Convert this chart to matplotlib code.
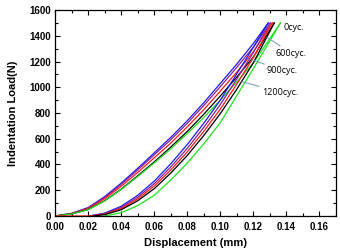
import matplotlib
matplotlib.use("Agg")
import matplotlib.pyplot as plt
from matplotlib.ticker import MultipleLocator

# ---- data ----
load_x = [0, 0.01, 0.02, 0.03, 0.04, 0.05, 0.06, 0.07, 0.08, 0.09, 0.10, 0.11, 0.12]
blue_load = [0, 20, 65, 150, 255, 370, 490, 610, 740, 880, 1030, 1180, 1340]
purple_load = [0, 19, 62, 143, 245, 357, 475, 592, 720, 858, 1005, 1155, 1312]
red_load = [0, 18, 57, 134, 230, 338, 452, 566, 692, 826, 970, 1118, 1275]
black_load = [0, 15, 50, 118, 208, 312, 420, 535, 657, 790, 932, 1080, 1235]
green_load = [0, 15, 49, 116, 205, 306, 412, 522, 640, 765, 900, 1042, 1190]

peak_load = 1500
peak_x = {"blue": 0.129, "purple": 0.1303, "red": 0.1315, "black": 0.1327, "green": 0.1364}

unload_x = [0.03, 0.04, 0.05, 0.06, 0.07, 0.08, 0.09, 0.10, 0.11, 0.12]
blue_unload = [22, 75, 160, 270, 405, 555, 720, 900, 1105, 1310]
purple_unload = [18, 65, 145, 250, 380, 525, 688, 865, 1065, 1270]
red_unload = [14, 57, 132, 232, 357, 498, 657, 830, 1025, 1230]
black_unload = [10, 48, 118, 212, 333, 470, 625, 795, 985, 1190]
unload_start = {"blue": 0.021, "purple": 0.021, "red": 0.022, "black": 0.023}

green_unload_x = [0.030, 0.04, 0.05, 0.06, 0.07, 0.08, 0.09, 0.10, 0.11, 0.12, 0.13]
green_unload = [0, 25, 80, 160, 280, 410, 560, 725, 935, 1145, 1360]

labels = ["0cyc.", "600cyc.", "900cyc.", "1200cyc."]

colors = {"blue": "#1a1aff", "purple": "#8a2090", "red": "#ff1a1a",
          "black": "#000000", "green": "#22e022"}

fig = plt.figure(figsize=(3.4, 2.52), dpi=100)
ax = fig.add_axes([0.162, 0.143, 0.826, 0.817])

lw = 0.9
loads = {"blue": blue_load, "purple": purple_load, "red": red_load,
         "black": black_load, "green": green_load}
for name, vals in loads.items():
    ax.plot(load_x + [peak_x[name]], vals + [peak_load], color=colors[name], lw=lw)

unloads = {"blue": blue_unload, "purple": purple_unload, "red": red_unload,
           "black": black_unload}
for name, vals in unloads.items():
    xs = [unload_start[name]] + unload_x + [peak_x[name]]
    ys = [0] + vals + [peak_load]
    if name == "red":
        xs = [0] + xs
        ys = [0] + ys
    ax.plot(xs, ys, color=colors[name], lw=lw)
ax.plot(green_unload_x + [peak_x["green"]], green_unload + [peak_load],
        color=colors["green"], lw=lw)

# annotations
lead = "#7f9fc0"
tfont = dict(family=["Open Sans", "DejaVu Sans"], fontsize=6.5)
ax.text(0.1382, 1468, labels[0], va="center", ha="left", **tfont)
ax.annotate(labels[1], xy=(0.1283, 1388), xytext=(0.1336, 1266), va="center", ha="left",
            arrowprops=dict(arrowstyle="-", color=lead, lw=0.8, shrinkA=0, shrinkB=0), **tfont)
ax.annotate(labels[2], xy=(0.1192, 1212), xytext=(0.1282, 1134), va="center", ha="left",
            arrowprops=dict(arrowstyle="-", color=lead, lw=0.8, shrinkA=0, shrinkB=0), **tfont)
ax.annotate(labels[3], xy=(0.1132, 1043), xytext=(0.1252, 963), va="center", ha="left",
            arrowprops=dict(arrowstyle="-", color=lead, lw=0.8, shrinkA=0, shrinkB=0), **tfont)

ax.set_xlim(0, 0.17)
ax.set_ylim(0, 1600)
ax.xaxis.set_major_locator(MultipleLocator(0.02))
ax.xaxis.set_minor_locator(MultipleLocator(0.01))
ax.yaxis.set_major_locator(MultipleLocator(200))
ax.yaxis.set_minor_locator(MultipleLocator(100))
ax.xaxis.set_major_formatter(plt.FuncFormatter(lambda v, p: f"{v:.2f}"))
ax.tick_params(which="both", direction="in", top=True, right=True, width=0.8)
ax.tick_params(which="major", length=3.5, labelsize=7)
ax.tick_params(axis="x", which="major", pad=4)
ax.tick_params(axis="y", which="major", pad=3)
ax.tick_params(which="minor", length=2)
for lab in ax.get_xticklabels() + ax.get_yticklabels():
    lab.set_fontweight("bold")
    lab.set_family("Liberation Sans")
for s in ax.spines.values():
    s.set_linewidth(0.9)

ax.set_xlabel("Displacement (mm)", fontsize=8, fontweight="bold", family="Liberation Sans", labelpad=5)
ax.set_ylabel("Indentation Load(N)", fontsize=8, fontweight="bold", family="Liberation Sans", labelpad=8)

fig.savefig("out.png", dpi=100)
